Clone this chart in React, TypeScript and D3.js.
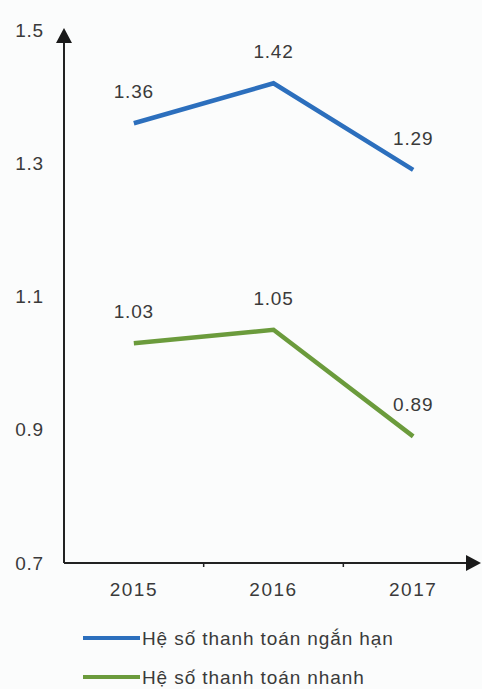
import React from "react";
import * as d3 from "d3";

const years = ["2015", "2016", "2017"];
const shortTerm = [1.36, 1.42, 1.29];
const quick = [1.03, 1.05, 0.89];
const yTicks = [0.7, 0.9, 1.1, 1.3, 1.5];
const seriesNames = ["Hệ số thanh toán ngắn hạn", "Hệ số thanh toán nhanh"];

const W = 482;
const H = 689;
const font = "Liberation Sans, Arial, sans-serif";

export default function App() {
  const x0 = 64;
  const x1 = 483;
  const x = d3.scaleBand<string>().domain(years).range([x0, x1]);
  const y = d3.scaleLinear().domain([0.7, 1.5]).range([563, 30]);
  const cx = (d: string) => (x(d) as number) + x.bandwidth() / 2;

  const line = d3
    .line<number>()
    .x((_, i) => cx(years[i]))
    .y((v) => y(v));

  const series = [
    { name: seriesNames[0], values: shortTerm, color: "#2c6fbd" },
    { name: seriesNames[1], values: quick, color: "#6b9b3c" },
  ];

  const axisY0 = y(0.7);
  const textColor = "#3a3a3a";
  return (
    <svg
      width={W}
      height={H}
      style={{ position: "absolute", left: 0, top: 0, background: "#fbfcfc" }}
      fontFamily={font}
    >
      {/* y axis */}
      <line x1={x0} x2={x0} y1={axisY0} y2={y(1.5) + 8} stroke="#222" strokeWidth={2} />
      <path
        d={`M${x0},${y(1.5) - 2} L${x0 - 8},${y(1.5) + 13} L${x0 + 8},${y(1.5) + 13} Z`}
        fill="#1a1a1a"
      />
      {/* x axis */}
      <line x1={x0} x2={468} y1={axisY0} y2={axisY0} stroke="#222" strokeWidth={2} />
      <path d={`M481,${axisY0} L466,${axisY0 - 8} L466,${axisY0 + 8} Z`} fill="#1a1a1a" />
      {years.slice(1).map((yr) => (
        <line
          key={yr}
          x1={x(yr) as number}
          x2={x(yr) as number}
          y1={axisY0}
          y2={axisY0 + 4}
          stroke="#222"
          strokeWidth={1.5}
        />
      ))}
      {yTicks.map((t) => (
        <text
          key={t}
          x={44}
          y={y(t)}
          dy="0.35em"
          textAnchor="end"
          fontSize={19}
          letterSpacing={0.8}
          fill={textColor}
        >
          {t.toFixed(1)}
        </text>
      ))}
      {years.map((yr) => (
        <text
          key={yr}
          x={cx(yr)}
          y={596}
          textAnchor="middle"
          fontSize={19}
          letterSpacing={1.5}
          fill={textColor}
        >
          {yr}
        </text>
      ))}
      {series.map((s) => (
        <g key={s.name}>
          <path
            d={line(s.values) || ""}
            fill="none"
            stroke={s.color}
            strokeWidth={4.5}
            strokeLinejoin="miter"
          />
          {s.values.map((v, i) => (
            <text
              key={i}
              x={cx(years[i])}
              y={y(v) - 25}
              textAnchor="middle"
              fontSize={19}
              letterSpacing={0.8}
              fill={textColor}
            >
              {v.toFixed(2)}
            </text>
          ))}
        </g>
      ))}
      {series.map((s, i) => (
        <g key={s.name} transform={`translate(83, ${638 + i * 39})`}>
          <line x1={0} x2={57} y1={0} y2={0} stroke={s.color} strokeWidth={4} />
          <text x={59} y={0} dy="0.35em" fontSize={19} letterSpacing={0.9} fill={textColor}>
            {s.name}
          </text>
        </g>
      ))}
    </svg>
  );
}
